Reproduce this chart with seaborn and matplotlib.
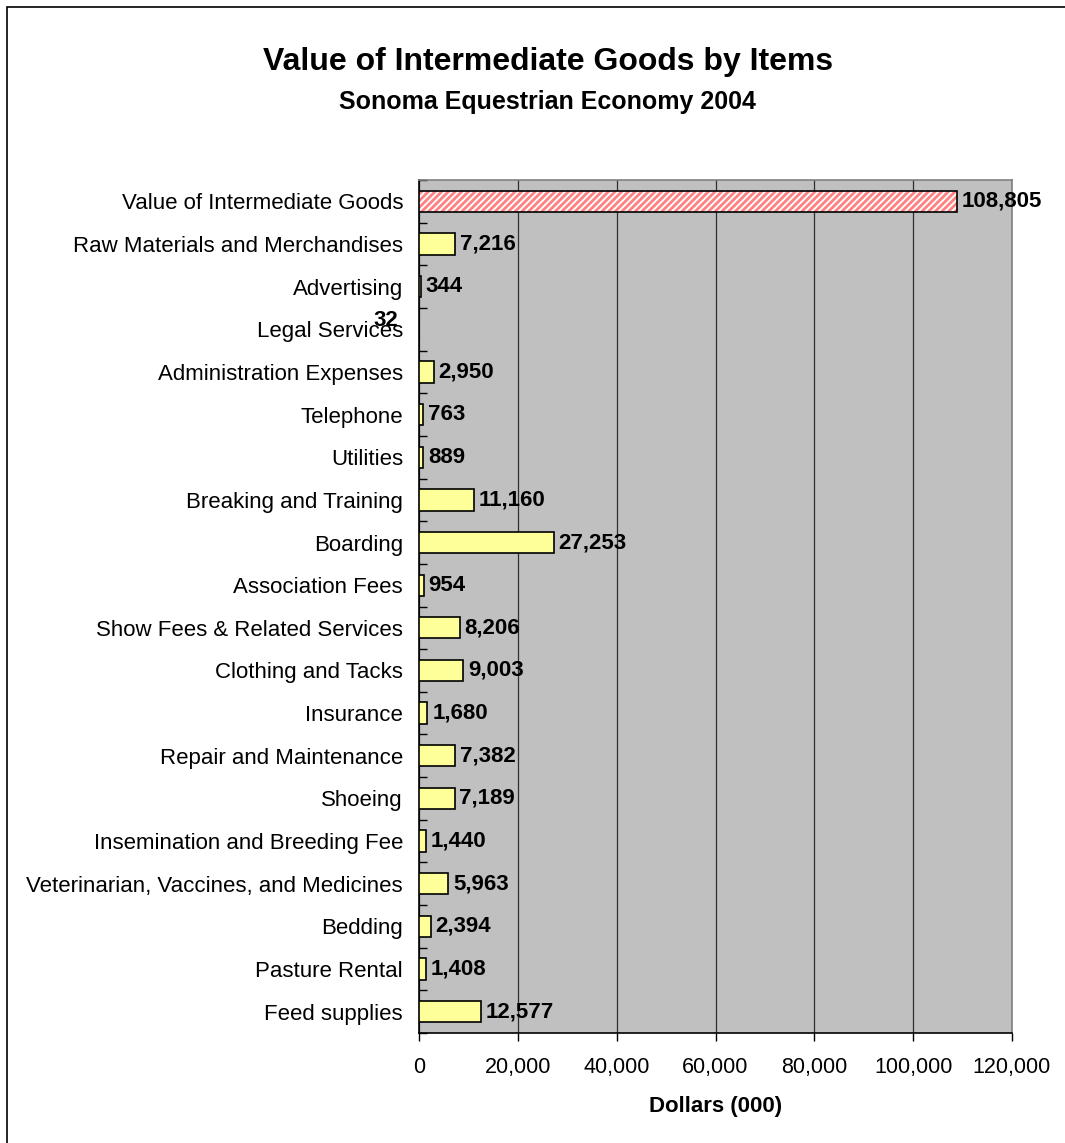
import matplotlib
matplotlib.use('Agg')
import matplotlib.pyplot as plt
import seaborn as sns
import pandas as pd
from matplotlib.patches import Rectangle
from matplotlib.ticker import FuncFormatter, MultipleLocator

# dados do grafico (de cima para baixo)
itens = [
    'Value of Intermediate Goods',
    'Raw Materials and Merchandises',
    'Advertising',
    'Legal Services',
    'Administration Expenses',
    'Telephone',
    'Utilities',
    'Breaking and Training',
    'Boarding',
    'Association Fees',
    'Show Fees & Related Services',
    'Clothing and Tacks',
    'Insurance',
    'Repair and Maintenance',
    'Shoeing',
    'Insemination and Breeding Fee',
    'Veterinarian, Vaccines, and Medicines',
    'Bedding',
    'Pasture Rental',
    'Feed supplies',
]
valores = [108805, 7216, 344, 32, 2950, 763, 889, 11160, 27253, 954,
           8206, 9003, 1680, 7382, 7189, 1440, 5963, 2394, 1408, 12577]

titulo = 'Value of Intermediate Goods by Items'
subtitulo = 'Sonoma Equestrian Economy 2004'
rotulo_x = 'Dollars (000)'

df = pd.DataFrame({'Item': itens, 'Valor': valores})

sns.set_style('white')
plt.rcParams['font.family'] = ['Liberation Sans', 'DejaVu Sans']
plt.rcParams['hatch.linewidth'] = 2.0
for k in ['text.color', 'axes.labelcolor', 'xtick.color', 'ytick.color']:
    plt.rcParams[k] = 'black'

fig = plt.figure(figsize=(10.65, 11.43), dpi=100)
ax = fig.add_axes([419 / 1065, 1 - 1033 / 1143, (1012 - 419) / 1065, (1033 - 180) / 1143])

sns.barplot(data=df, x='Valor', y='Item', orient='h', color='#FFFF99',
            edgecolor='black', linewidth=1.2, width=0.5, saturation=1, ax=ax, zorder=3)

# primeira barra: listrada em vermelho
p0 = ax.patches[0]
p0.set_facecolor('white')
p0.set_hatch('/////')
p0.set_edgecolor('#FF8080')
p0.set_linewidth(0)
ax.add_patch(Rectangle(p0.get_xy(), p0.get_width(), p0.get_height(),
                       fill=False, edgecolor='black', linewidth=1.2, zorder=4))

# rotulos de valor
for i, (p, v) in enumerate(zip(ax.patches[:len(valores)], valores)):
    y = p.get_y() + p.get_height() / 2
    x = p.get_x() + p.get_width()
    off = (3.5, 0)
    if itens[i] == 'Legal Services':
        off = (-33, 6)
    ax.annotate(f'{v:,}', xy=(x, y), xytext=off, textcoords='offset points',
                ha='left', va='center', fontsize=16, fontweight='bold', zorder=5)

ax.set_facecolor('#C0C0C0')
ax.set_xlim(0, 120000)
ax.set_ylim(len(itens) - 0.5, -0.5)
ax.xaxis.set_major_locator(MultipleLocator(20000))
ax.xaxis.set_major_formatter(FuncFormatter(lambda v, p: f'{int(v):,}'))
ax.grid(axis='x', color='#303030', linewidth=0.9, zorder=0)
ax.set_axisbelow(True)

ax.yaxis.set_minor_locator(MultipleLocator(1, offset=0.5))
ax.tick_params(axis='y', which='major', length=0, pad=11.5, labelsize=16)
ax.tick_params(axis='y', which='minor', direction='in', length=6, width=1, color='black', left=True)
ax.tick_params(axis='x', which='major', direction='out', length=6, width=1, color='black',
               bottom=True, labelsize=15.5, pad=11)

for lado in ['top', 'right']:
    ax.spines[lado].set_color('#808080')
for lado in ['left', 'bottom']:
    ax.spines[lado].set_color('black')
for s in ax.spines.values():
    s.set_visible(True)
    s.set_linewidth(1.2)

ax.set_ylabel('')
ax.set_xlabel(rotulo_x, fontsize=16, fontweight='bold', labelpad=13)

fig.text(548 / 1065, 1 - 62 / 1143, titulo, ha='center', va='center', fontsize=23, fontweight='bold')
fig.text(547 / 1065, 1 - 102 / 1143, subtitulo, ha='center', va='center', fontsize=18, fontweight='bold')

# moldura do grafico
fig.patches.append(Rectangle((7 / 1065, -0.05), 1.1, 1.05 - 7 / 1143, transform=fig.transFigure,
                             fill=False, edgecolor='black', linewidth=1.2))

fig.savefig('out.png', dpi=100)
